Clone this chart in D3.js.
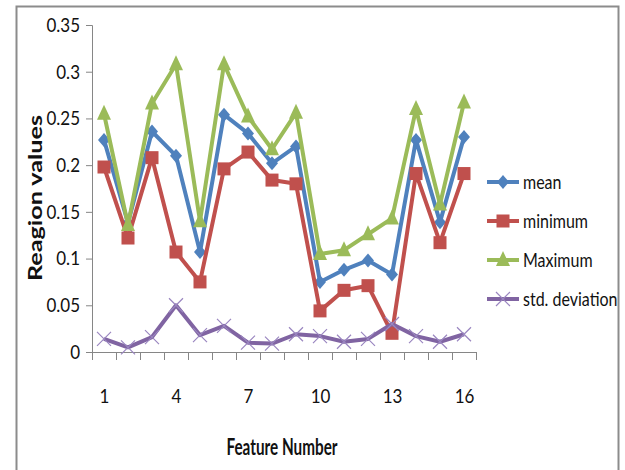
<!DOCTYPE html>
<html lang="en">
<head>
    <meta charset="UTF-8">
    <title>Reagion values chart</title>
    <style>
        body {
            margin: 0;
            background: #fff;
        }

        svg text {
            font-family: Lato, "Open Sans", sans-serif;
            fill: #111;
        }

        .axis path, .axis line {
            stroke: #868686;
        }
    </style>
</head>

<body>
    <svg id="chart"></svg>
</body>

<script src="https://cdn.jsdelivr.net/npm/d3@7/dist/d3.min.js"></script>

<script>
    // values
    let features = d3.range(1, 17)
    let xLabels = [1, 4, 7, 10, 13, 16]
    let yTicks = [0, 0.05, 0.1, 0.15, 0.2, 0.25, 0.3, 0.35]

    let meanValues = [0.227, 0.138, 0.236, 0.210, 0.107, 0.254, 0.234, 0.202, 0.220, 0.075, 0.088, 0.098, 0.083, 0.227, 0.139, 0.230]
    let minValues = [0.198, 0.122, 0.208, 0.107, 0.075, 0.196, 0.214, 0.184, 0.180, 0.044, 0.066, 0.071, 0.020, 0.191, 0.117, 0.191]
    let maxValues = [0.255, 0.136, 0.266, 0.308, 0.140, 0.308, 0.252, 0.217, 0.256, 0.105, 0.109, 0.126, 0.143, 0.260, 0.158, 0.267]
    let stdValues = [0.014, 0.005, 0.016, 0.050, 0.018, 0.028, 0.010, 0.009, 0.019, 0.017, 0.011, 0.014, 0.030, 0.017, 0.011, 0.019]

    let series = [
        { name: "mean", values: meanValues, color: "#4F81BD", marker: "diamond" },
        { name: "minimum", values: minValues, color: "#C0504D", marker: "square" },
        { name: "Maximum", values: maxValues, color: "#9BBB59", marker: "triangle" },
        { name: "std. deviation", values: stdValues, color: "#8064A2", marker: "cross" }
    ]

    let width = 625;
    let height = 470;

    let svg = d3.select("#chart")
        .attr("width", width)
        .attr("height", height)

    // outer frame
    svg.append("rect")
        .attr("x", 16.5).attr("y", 6.5)
        .attr("width", 602).attr("height", 480)
        .attr("fill", "none")
        .attr("stroke", "#8c8c8c")
        .attr("stroke-width", 2)

    let xScale = d3.scaleLinear()
        .domain([0.5, 16.5])
        .range([92, 476])

    let yScale = d3.scaleLinear()
        .domain([0, 0.35])
        .range([352, 25])

    // the text in the picture is squeezed sideways, so shrink glyphs horizontally
    function squeeze(sel, sx) {
        sel.each(function () {
            let t = d3.select(this)
            let x = +t.attr("x") || 0
            let y = +t.attr("y") || 0
            t.attr("transform", `translate(${x},${y}) scale(${sx},1)`).attr("x", 0).attr("y", 0)
        })
    }

    // y axis
    let yAxis = svg.append("g")
        .attr("class", "axis")
        .attr("transform", "translate(92,0)")
        .call(d3.axisLeft(yScale).tickValues(yTicks).tickSize(6).tickPadding(6)
            .tickFormat(d => String(+d.toFixed(2))))
    yAxis.selectAll("text").style("font-size", "20px")
    squeeze(yAxis.selectAll("text"), 0.85)

    // x axis with ticks between categories
    svg.append("g")
        .attr("class", "axis")
        .attr("transform", "translate(0,352)")
        .call(d3.axisBottom(xScale).tickValues(d3.range(0.5, 17, 1)).tickSize(8).tickSizeOuter(0).tickFormat(""))

    let xLab = svg.append("g")
        .attr("transform", "translate(0,352)")
        .call(d3.axisBottom(xScale).tickValues(xLabels).tickSize(0).tickPadding(37))
    xLab.select(".domain").remove()
    xLab.selectAll("text").style("font-size", "20px")
    squeeze(xLab.selectAll("text"), 0.85)

    // axis titles
    svg.append("text")
        .attr("x", 282).attr("y", 455)
        .attr("text-anchor", "middle")
        .attr("textLength", 111).attr("lengthAdjust", "spacingAndGlyphs")
        .style("font-size", "22px").style("font-weight", "bold")
        .text("Feature Number")

    svg.append("text")
        .attr("transform", "translate(42,198) rotate(-90)")
        .attr("text-anchor", "middle")
        .attr("textLength", 166).attr("lengthAdjust", "spacingAndGlyphs")
        .style("font-size", "18px").style("font-weight", "bold")
        .text("Reagion values")

    function drawMarker(g, type, color) {
        if (type === "diamond") {
            g.append("path").attr("d", "M0,-7L6,0L0,7L-6,0Z").attr("fill", color)
        } else if (type === "square") {
            g.append("rect").attr("x", -6.5).attr("y", -6.5).attr("width", 13).attr("height", 13).attr("fill", color)
        } else if (type === "triangle") {
            g.append("path").attr("d", "M0,-9L7,6L-7,6Z").attr("fill", color)
        } else {
            g.append("path").attr("d", "M-7,-7L7,7M-7,7L7,-7").attr("stroke", "#9a86c0").attr("stroke-width", 1.2).attr("fill", "none")
        }
    }

    let line = d3.line()
        .x((d, i) => xScale(features[i]))
        .y(d => yScale(d))

    let plot = svg.append("g")
    for (let s of series) {
        plot.append("path")
            .datum(s.values)
            .attr("d", line)
            .attr("fill", "none")
            .attr("stroke", s.color)
            .attr("stroke-width", 4)
            .attr("stroke-linejoin", "round")
        s.values.forEach((v, i) => {
            let g = plot.append("g").attr("transform", `translate(${xScale(features[i])},${yScale(v)})`)
            drawMarker(g, s.marker, s.color)
        })
    }

    // legend
    let legend = svg.append("g")
    series.forEach((s, i) => {
        let y = 182 + i * 39
        legend.append("line")
            .attr("x1", 487).attr("x2", 519)
            .attr("y1", y).attr("y2", y)
            .attr("stroke", s.color).attr("stroke-width", 4)
        drawMarker(legend.append("g").attr("transform", `translate(503,${y})`), s.marker, s.color)
        let t = legend.append("text")
            .attr("x", 523).attr("y", y + 7)
            .style("font-size", "20px")
            .text(s.name)
        squeeze(t, 0.8)
    })
</script>

</html>
